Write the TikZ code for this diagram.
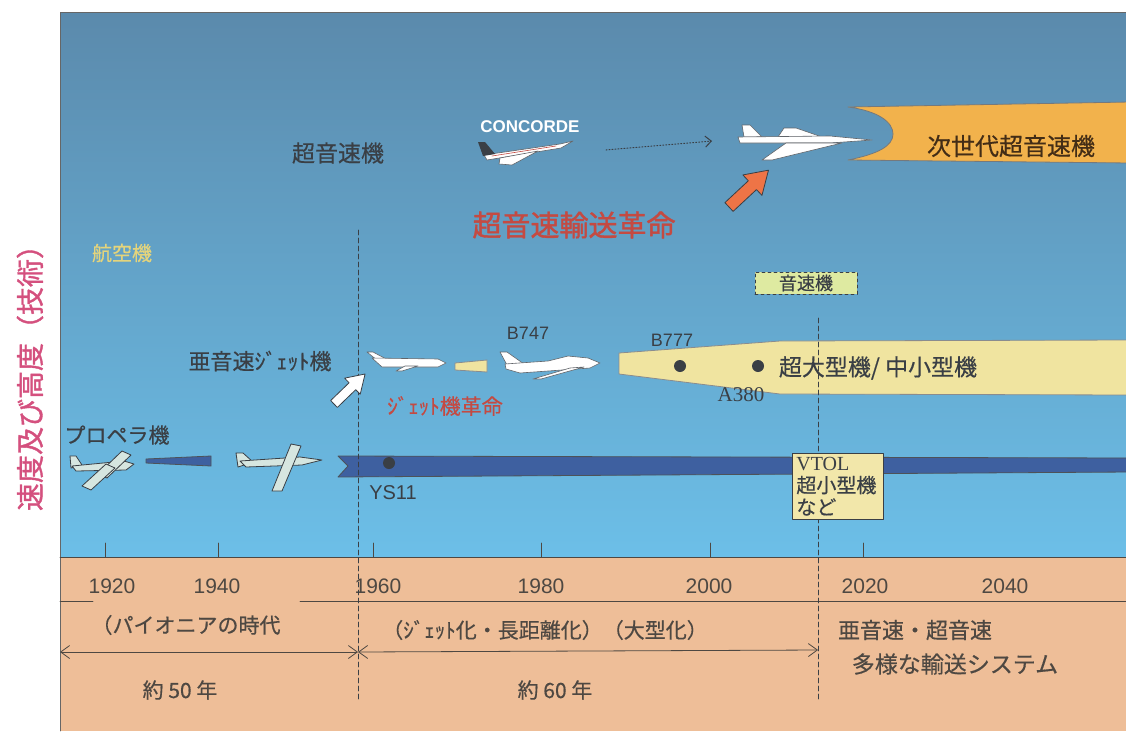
\documentclass[tikz,border=0pt]{standalone}
\usepackage{fontspec}
\newfontfamily\jpfont[FakeBold=0.5]{Noto Sans CJK JP}
\newfontfamily\jpboldfont[FakeBold=1.3]{Noto Sans CJK JP}
\newfontfamily\arialfont{Liberation Sans}
\newfontfamily\timesfont{Liberation Serif}
\usetikzlibrary{arrows.meta}
\definecolor{skytop}{HTML}{5B8AAC}
\definecolor{skymid}{HTML}{5EA2CE}
\definecolor{skybot}{HTML}{6CBFE8}
\definecolor{ground}{HTML}{EEBE98}
\definecolor{ink}{HTML}{3A3F45}
\definecolor{groundink}{HTML}{4E4842}
\definecolor{gold}{HTML}{F2B24C}
\definecolor{cream}{HTML}{F0E4A0}
\definecolor{navy}{HTML}{3E60A0}
\definecolor{rosered}{HTML}{C44A42}
\definecolor{pinkred}{HTML}{D4507E}
\definecolor{paleyellow}{HTML}{E4D47C}
\definecolor{palegreen}{HTML}{D6E6E0}
\definecolor{arroworange}{HTML}{EE7446}
\tikzset{
  jp/.style={font={\jpfont\fontsize{#1}{#1}\selectfont}},
  year/.style={font={\arialfont\fontsize{21pt}{21pt}\selectfont},text=groundink},
  plane/.style={fill=white,draw=ink!80,line width=0.6pt},
  propplane/.style={fill=palegreen,draw=ink,line width=0.8pt},
  band/.style={fill=navy,draw=ink!90,line width=0.8pt},
  fatarrow/.pic={\draw[pic actions] (0,-6) -- (32,-6) -- (32,-14) -- (54,0) -- (32,14) -- (32,6) -- (0,6) -- cycle;}
}
\begin{document}
\begin{tikzpicture}[line cap=round,line join=round,>={Straight Barb[length=9pt,width=13pt]},x=1pt,y=-1pt]
\useasboundingbox (0,0) rectangle (1126,731);
\shade[top color=skytop,middle color=skymid,bottom color=skybot] (60,12) rectangle (1126,557);
\fill[ground] (60,557) rectangle (1126,731);
\draw[gray!80!black,line width=0.8pt] (60,731) -- (60,12) -- (1126,12);
\draw[groundink,line width=0.9pt] (60,557) -- (1126,557);
\foreach \x in {105,218,373,541,710,863}
  \draw[groundink,line width=0.8pt] (\x,543) -- (\x,557);
\foreach \x/\yr in {112/1920,217/1940,378/1960,541/1980,709/2000,865/2020,1005/2040}
  \node[year] (y\yr) at (\x,586) {\yr};
\draw[groundink,line width=0.8pt] (60,601) -- (93,601);
\draw[groundink,line width=0.8pt] (300,601) -- (1126,601);

\node[font={\jpboldfont\fontsize{28pt}{28pt}\selectfont},text=pinkred,rotate=90] (axis) at (30,371) {速度及び高度（技術）};
\node[jp=20pt,text=paleyellow] (aircraft) at (122,253) {航空機};

\draw[fill=gold,draw=ink!70,line width=0.8pt] (848,107) -- (1130,102) -- (1130,163) -- (848,160)
  .. controls (878,154) and (893,146) .. (893,134) .. controls (893,122) and (878,111) .. (848,107) -- cycle;
\draw[fill=cream,draw=ink!60,line width=0.8pt] (619,353) -- (780,341) -- (1130,340) -- (1130,395) -- (780,394) -- (619,374) -- cycle;
\draw[fill=cream,draw=ink!60,line width=0.8pt] (455,363) -- (487,360) -- (487,372) -- (455,370) -- cycle;
\draw[band] (146,459) -- (211,456) -- (211,466) -- (146,463) -- cycle;
\draw[band] (338,456) -- (1130,458) -- (1130,472) -- (338,477) -- (348,466) -- cycle;

\draw[ink,line width=0.7pt,dash pattern=on 5pt off 3pt] (358,230) -- (358,700);
\draw[ink,line width=0.7pt,dash pattern=on 5pt off 3pt] (818,318) -- (818,700);

\fill[ink] (680,366) circle (6);
\fill[ink] (758,366) circle (6);
\fill[ink] (389,463) circle (6);

\node[jp=23pt,text=ink] (sstlabel) at (338,153) {超音速機};
\node[font={\arialfont\bfseries\fontsize{17pt}{17pt}\selectfont},text=white] (concordelabel) at (530,127) {CONCORDE};
\node[jp=24pt,text=black!65!brown] (nextgen) at (1011,146) {次世代超音速機};
\node[font={\jpboldfont\fontsize{29pt}{29pt}\selectfont},text=rosered] (sstrevo) at (574,225) {超音速輸送革命};
\node[jp=18pt,text=ink,draw=ink,dashed,line width=0.8pt,fill=green!10!cream!85!white,minimum width=102pt,minimum height=22pt,inner sep=1pt] (sonic) at (806,283) {音速機};
\node[font={\arialfont\fontsize{18pt}{18pt}\selectfont},text=ink] (b747) at (528,333) {B747};
\node[font={\arialfont\fontsize{18pt}{18pt}\selectfont},text=ink] (b777) at (672,340) {B777};
\node[jp=22pt,text=ink] (jetlabel) at (260,361) {亜音速ｼﾞｪｯﾄ機};
\node[jp=23pt,text=ink] (sizes) at (878,368) {超大型機/ 中小型機};
\node[font={\timesfont\fontsize{21pt}{21pt}\selectfont},text=ink] (a380) at (741,395) {A380};
\node[jp=21pt,text=rosered] (jetrevo) at (445,406) {ｼﾞｪｯﾄ機革命};
\node[jp=21pt,text=ink] (proplabel) at (117,435) {プロペラ機};
\node[font={\arialfont\fontsize{20pt}{20pt}\selectfont},text=ink] (ys11) at (393,493) {YS11};
\node[anchor=north west,draw=ink,line width=0.8pt,fill=cream!90!white,text=ink,align=left,text width=83pt,inner sep=4pt,
  font={\jpfont\fontsize{20pt}{22pt}\selectfont}] (vtol) at (792,453) {{\timesfont VTOL}\\超小型機\\など};

% concorde and next supersonic plane
\draw[plane] (484,155) -- (560,144) -- (573,141) -- (561,148) -- (487,160) -- cycle;
\draw[plane] (500,158) -- (538,151) -- (512,165) -- (499,164) -- cycle;
\fill[ink] (483,156) -- (478,142) -- (485,142) -- (495,154) -- cycle;
\draw[rosered,line width=0.6pt] (492,156) -- (556,146);
\draw[plane] (744,137) -- (742,125) -- (750,125) -- (762,137) -- cycle;
\draw[plane] (778,137) -- (784,128) -- (796,128) -- (822,137) -- cycle;
\draw[plane] (738,137) -- (830,136) -- (872,140) -- (830,143) -- (740,143) -- cycle;
\draw[plane] (842,143) -- (772,160) -- (762,160) -- (786,143) -- cycle;
\coordinate (concorde) at (606,150);
\coordinate (nextsst) at (712,141);
\draw[ink,line width=1pt,dotted,-{Straight Barb[length=6pt,width=11pt]}] (concorde) -- (nextsst);

% jets
\draw[plane] (367,352) -- (373,352) -- (388,360) -- (378,361) -- cycle;
\draw[plane] (372,358) -- (438,359) -- (446,363) -- (438,367) -- (382,367) -- cycle;
\draw[plane] (418,366) -- (402,371) -- (396,371) -- (405,366) -- cycle;
\draw[plane] (500,352) -- (507,352) -- (524,364) -- (507,365) -- cycle;
\draw[plane] (505,364) -- (548,361) -- (568,356) -- (588,358) -- (600,363) -- (590,368) -- (520,373) -- (506,369) -- cycle;
\draw[plane] (570,368) -- (533,379) -- (541,379) -- (584,367) -- cycle;

% propeller planes
\draw[propplane] (70,456) -- (76,456) -- (82,465) -- (71,468) -- cycle;
\draw[propplane] (72,466) -- (124,461) -- (134,464) -- (126,470) -- (76,471) -- cycle;
\draw[propplane] (98,474) -- (122,451) -- (131,455) -- (107,478) -- cycle;
\draw[propplane] (82,486) -- (106,464) -- (115,468) -- (91,490) -- cycle;
\draw[propplane] (236,453) -- (243,453) -- (253,462) -- (238,467) -- cycle;
\draw[propplane] (240,461) -- (300,457) -- (322,460) -- (302,465) -- (246,467) -- cycle;
\draw[propplane] (291,444) -- (301,446) -- (282,491) -- (272,491) -- cycle;

\pic[fill=arroworange,draw=ink,line width=0.8pt,rotate=43] at (729,207) {fatarrow};
\pic[fill=white,draw=ink,line width=0.8pt,rotate=44,scale=0.8] at (334,404) {fatarrow};

\coordinate (t1910) at (60,652);
\coordinate (t1958) at (358,652);
\coordinate (t2013) at (818,650);
\draw[groundink,line width=0.8pt,<->] (t1910) -- (t1958);
\draw[groundink,line width=0.8pt,<->] (t1958) -- (t2013);

\node[jp=21pt,text=groundink] (pioneer) at (186,625) {（パイオニアの時代};
\node[jp=21pt,text=groundink] (jetage) at (545,630) {（ｼﾞｪｯﾄ化・長距離化）（大型化）};
\node[jp=22pt,text=groundink] (future) at (915,630) {亜音速・超音速};
\node[jp=23pt,text=groundink] (transport) at (955,664) {多様な輸送システム};
\node[jp=21pt,text=groundink] (span50) at (180,690) {約 50 年};
\node[jp=21pt,text=groundink] (span60) at (555,690) {約 60 年};
\end{tikzpicture}
\end{document}
